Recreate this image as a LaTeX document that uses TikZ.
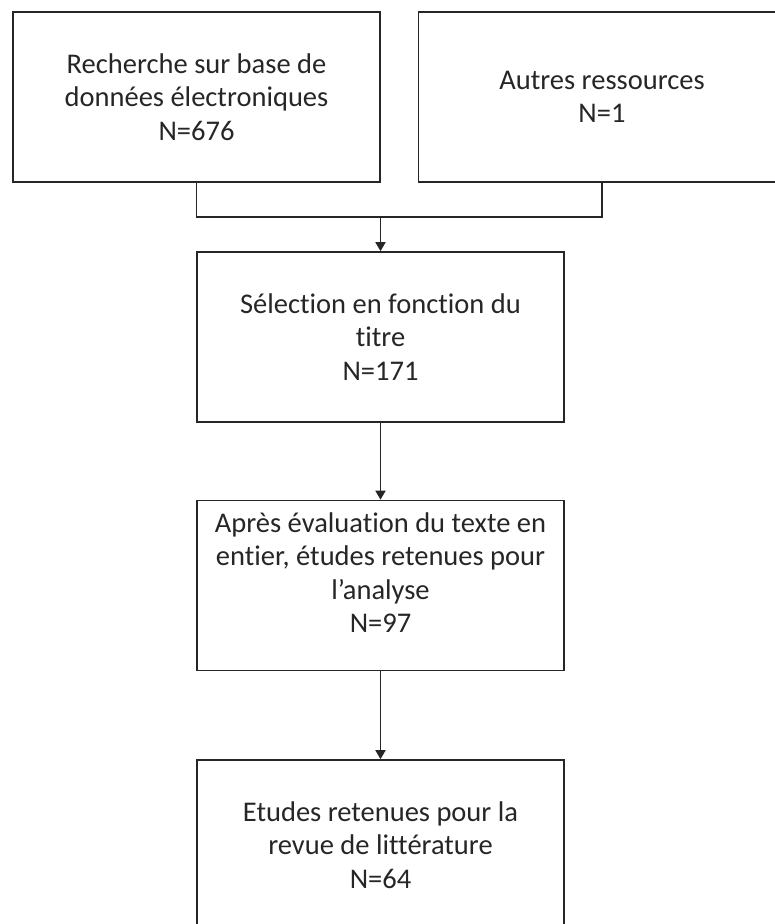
\documentclass[tikz,border=0pt]{standalone}
\usepackage{fontspec}
\setmainfont{Carlito}[Ligatures={NoCommon,NoContextual},RawFeature={-liga;-clig}]
\usetikzlibrary{arrows.meta}
\begin{document}
\begin{tikzpicture}[x=1pt,y=-1pt,
  box/.style={draw=black!85, line width=1.6pt, minimum width=367pt, minimum height=170pt,
    inner sep=0pt, align=center, font=\fontsize{28.5}{33.5}\selectfont, text=black!85},
  boxtext/.style={inner sep=0pt, align=center, font=\fontsize{28.5}{33.5}\selectfont, text=black!85},
  conn/.style={draw=black!85, line width=1.6pt},
  arr/.style={conn, -{Triangle[width=10pt,length=9pt]}}]
\useasboundingbox (0,0) rectangle (775,924);
\clip (0,0) rectangle (775,924);
\node[box] (b1) at (196.5,97) {Recherche sur base de\\données électroniques\\N=676};
\node[box] (b2) at (602,97) {Autres ressources\\N=1};
\node[box] (b3) at (380.5,337) {Sélection en fonction du\\titre\\N=171};
\node[box] (b4) at (380.5,585.5) {};
\node[boxtext] (t4) at ([yshift=13pt]b4.center) {Après évaluation du texte en\\entier, études retenues pour\\l’analyse\\N=97};
\node[box] (b5) at (380.5,845) {Etudes retenues pour la\\revue de littérature\\N=64};
\coordinate (j) at (380.5,217);
\draw[conn] (b1.south) |- (j);
\draw[conn] (b2.south) |- (j);
\draw[arr] (j) -- (b3.north);
\draw[arr] (b3.south) -- (b4.north);
\draw[arr] (b4.south) -- (b5.north);
\end{tikzpicture}
\end{document}
